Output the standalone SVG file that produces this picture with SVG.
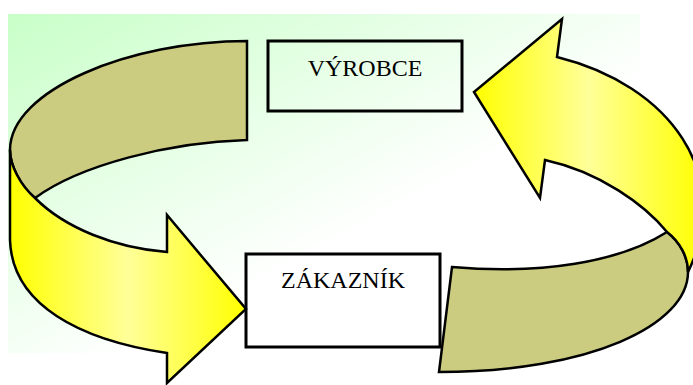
<svg xmlns="http://www.w3.org/2000/svg" width="693" height="385" viewBox="0 0 693 385">
  <defs>
    <linearGradient id="bgGrad" x1="0" y1="0" x2="1" y2="1">
      <stop offset="0" stop-color="#c8ffc8"/>
      <stop offset="0.6" stop-color="#ffffff"/>
    </linearGradient>
    <linearGradient id="yellowGrad" x1="0" y1="0" x2="1" y2="0">
      <stop offset="0" stop-color="#ffff00"/>
      <stop offset="0.5" stop-color="#ffff99"/>
      <stop offset="1" stop-color="#ffff00"/>
    </linearGradient>
    <style>
      .back { fill: #cccc80; stroke: #000; stroke-width: 2.5; stroke-linejoin: miter; }
      .front { fill: url(#yellowGrad); stroke: #000; stroke-width: 2.5; stroke-linejoin: miter; }
      .box { fill: none; stroke: #000; stroke-width: 3; }
      .label { font-family: "Liberation Serif", "Times New Roman", serif; font-size: 24px; fill: #000; text-anchor: middle; }
    </style>
  </defs>

  <!-- backdrop -->
  <rect x="8" y="14" width="632" height="339" fill="url(#bgGrad)"/>

  <!-- cycle arrows -->
  <g id="connectors">
    <!-- left ribbon: back face -->
    <path class="back" d="M247,41 C130,41 10,90 10,150 C10,165 20,185 35,198 C80,165 170,142 247,140 Z"/>
    <!-- left ribbon: front face with head pointing at the customer -->
    <path class="front" d="M10,150 C10,165 20,185 35,198 C65,228 115,248 167,252 L167,215 L246,309 L167,383 L167,353 C80,340 12,305 10,240 Z"/>
    <!-- right ribbon: back face -->
    <path class="back" d="M452,267 C540,275 620,262 667,232 C680,242 688,257 688,272 C688,325 590,372 439,372 Z"/>
    <!-- right ribbon: front face with head pointing at the producer -->
    <path class="front" d="M667,232 C645,205 600,172 545,160 L540,198 L474,92 L562,19 L557,57 C670,85 735,175 688,272 C688,257 680,242 667,232 Z"/>
  </g>

  <g id="vyrobce">
    <rect class="box" x="268" y="41" width="194" height="70"/>
    <text class="label" x="365" y="76">VÝROBCE</text>
  </g>

  <g id="zakaznik">
    <rect class="box" x="246" y="254" width="194" height="93"/>
    <text class="label" x="343" y="288">ZÁKAZNÍK</text>
  </g>
</svg>
